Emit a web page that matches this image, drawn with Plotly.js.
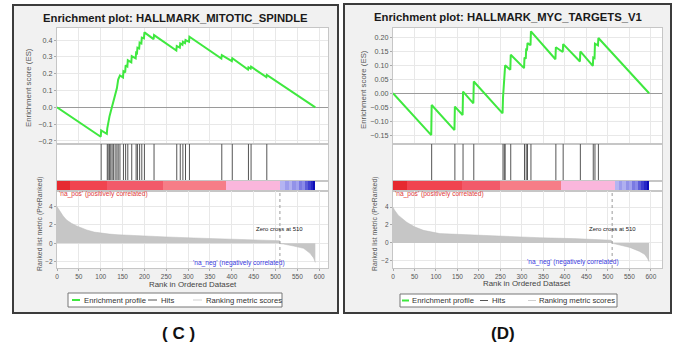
<!DOCTYPE html>
<html><head><meta charset="utf-8">
<script src="https://cdn.plot.ly/plotly-3.0.1.min.js"></script>
<style>html,body{margin:0;padding:0;background:#fff;}#chart{width:675px;height:344px;}</style>
</head><body><div id="chart"></div>
<script>
// ---------------- DATA ----------------
const titleL = "Enrichment plot: HALLMARK_MITOTIC_SPINDLE";
const titleR = "Enrichment plot: HALLMARK_MYC_TARGETS_V1";
const panelLabels = ["( C )", "(D)"];

// Running enrichment score (vertices)
const esRankL = [0,100,101,114,115,117,120,123,126,129,133,137,140,144,151,152,156,157,161,162,170,171,180,181,183,184,188,189,193,194,199,200,221,222,273,274,281,282,287,288,293,294,302,303,376,377,400,401,437,438,443,444,479,480,591];
const esValL  = [0,-0.175,-0.137,-0.157,-0.125,-0.085,-0.055,-0.025,0.005,0.035,0.07,0.113,0.165,0.19,0.178,0.215,0.208,0.25,0.243,0.28,0.268,0.305,0.292,0.325,0.322,0.355,0.35,0.385,0.38,0.415,0.41,0.446,0.406,0.43,0.338,0.365,0.355,0.38,0.372,0.39,0.382,0.40,0.39,0.42,0.29,0.31,0.275,0.292,0.225,0.238,0.23,0.242,0.18,0.193,0];

const esRankR = [0,89,90,143,144,162,163,187,188,255,256,259,261,273,274,305,306,309,310,312,313,320,321,378,379,395,396,435,436,465,466,469,470,477,478,596];
const esValR  = [0,-0.15,-0.042,-0.132,-0.048,-0.078,0.006,-0.036,0.042,-0.072,-0.015,0.048,0.10,0.084,0.138,0.09,0.128,0.124,0.160,0.158,0.180,0.172,0.222,0.122,0.165,0.148,0.176,0.114,0.150,0.098,0.128,0.126,0.178,0.172,0.198,0];

// Hit positions (ranks of gene-set members)
const hitsL = [101,115,117,120,123,126,129,133,137,140,144,152,157,162,171,181,184,189,194,200,222,274,282,288,294,303,377,401,438,444,480];
const hitsR = [90,144,163,188,256,259,261,274,306,310,313,321,379,396,436,466,470,478];

// Ranked list metric (sampled along the curve)
const metricRankL = [0,2,6,14,22,33,45,68,85,100,120,140,175,250,330,405,480,509,511,518,541,564,579,587,591];
const metricValL  = [4.0,3.85,3.45,2.98,2.54,2.18,1.89,1.45,1.22,1.09,1.0,0.93,0.83,0.69,0.55,0.44,0.35,0.28,-0.05,-0.08,-0.3,-0.55,-1.1,-1.6,-2.1];
const metricRankR = [0,3,12,22,32,50,71,109,187,264,342,420,497,508,511,520,551,574,586,592,596];
const metricValR  = [4.0,3.7,3.1,2.7,2.3,1.8,1.4,1.04,0.87,0.68,0.58,0.48,0.37,0.3,-0.05,-0.15,-0.5,-0.95,-1.3,-1.7,-2.1];

const zeroCrossL = 510, zeroCrossR = 510;

// Colour-bar segment edges (rank)
const cbEdgesL = [0,30,114,243,387,511,522,530,538,546,553,560,567,574,580,586,591];
const cbEdgesR = [0,32,160,249,392,516,526,534,542,550,557,564,571,578,584,590,596];

const rankTicks = [0,50,100,150,200,250,300,350,400,450,500,550,600];

// ---------------- STYLE ----------------
const cbColors = ['#e62a30','#f04450','#f25a6a','#f67d87','#fab6dc','#b4b4f2','#9c9cec','#b0b0f0','#9292e8','#a2a2ee','#7a7ae2','#8a8ae8','#5c5cd8','#3e3ed0','#2626c6','#0c0cb6'];
const W=675, H=344;
const FONT = 'Liberation Sans, Arial, sans-serif';
const GREEN = '#3fe83f', HITC = '#555555', GRID = '#e8e8e8', BORDER = '#c6c6c6';
const fx = x => x/W, fy = y => 1 - y/H;

function hitXY(h){const x=[],y=[];h.forEach(r=>{x.push(r,r,null);y.push(0,1,null);});return {x,y};}
function cbBars(edges){const c=[],w=[];for(let i=0;i<edges.length-1;i++){c.push((edges[i]+edges[i+1])/2);w.push(edges[i+1]-edges[i]);}return {c,w};}

const hL = hitXY(hitsL), hR = hitXY(hitsR);
const bL = cbBars(cbEdgesL), bR = cbBars(cbEdgesR);

const traces = [
  {x:esRankL,y:esValL,xaxis:'x',yaxis:'y',mode:'lines',line:{color:GREEN,width:2},showlegend:false,name:'Enrichment profile'},
  {x:hL.x,y:hL.y,xaxis:'x2',yaxis:'y2',mode:'lines',line:{color:HITC,width:1},showlegend:false,name:'Hits'},
  {type:'bar',x:bL.c,width:bL.w,y:bL.c.map(()=>1),base:0,xaxis:'x3',yaxis:'y3',marker:{color:cbColors,line:{width:0}},showlegend:false},
  {x:metricRankL,y:metricValL,xaxis:'x4',yaxis:'y4',mode:'lines',fill:'tozeroy',fillcolor:'#c6c6c6',line:{color:'#bdbdbd',width:0.5},showlegend:false,name:'Ranking metric scores'},
  {x:esRankR,y:esValR,xaxis:'x5',yaxis:'y5',mode:'lines',line:{color:GREEN,width:2},showlegend:false,name:'Enrichment profile'},
  {x:hR.x,y:hR.y,xaxis:'x6',yaxis:'y6',mode:'lines',line:{color:HITC,width:1},showlegend:false,name:'Hits'},
  {type:'bar',x:bR.c,width:bR.w,y:bR.c.map(()=>1),base:0,xaxis:'x7',yaxis:'y7',marker:{color:cbColors,line:{width:0}},showlegend:false},
  {x:metricRankR,y:metricValR,xaxis:'x8',yaxis:'y8',mode:'lines',fill:'tozeroy',fillcolor:'#c6c6c6',line:{color:'#bdbdbd',width:0.5},showlegend:false,name:'Ranking metric scores'}
];

const domL=[fx(57),fx(328)], domR=[fx(393),fx(662)];
const dES=[fy(144),fy(28)], dHit=[fy(180.5),fy(144)], dCB=[fy(190.5),fy(180.5)], dRank=[fy(268),fy(190.5)];
const tickFont={family:FONT,size:7.2,color:'#555'};
const smallTick={family:FONT,size:6.5,color:'#555'};
const base={showline:true,mirror:true,linecolor:BORDER,linewidth:1,zeroline:false,fixedrange:true};
function xax(dom,anchor,range,opts){return Object.assign({},base,{domain:dom,anchor:anchor,range:range,tickvals:rankTicks,showgrid:false,showticklabels:false,ticks:''},opts||{});}
function yax(dom,anchor,range,opts){return Object.assign({},base,{domain:dom,anchor:anchor,range:range,showgrid:false,showticklabels:false,ticks:''},opts||{});}

const rxL=[0,620], rxR=[0,626];
const layout = {
  width:W,height:H,margin:{l:0,r:0,t:0,b:0},paper_bgcolor:'#ffffff',plot_bgcolor:'rgba(0,0,0,0)',
  showlegend:false,bargap:0,
  xaxis: xax(domL,'y',rxL,{showgrid:true,gridcolor:GRID}),
  yaxis: yax(dES,'x',[-0.218,0.472],{showgrid:true,gridcolor:GRID,tickvals:[-0.2,-0.1,0,0.1,0.2,0.3,0.4],tickformat:'.1f',showticklabels:true,tickfont:tickFont,ticks:'outside',ticklen:2,tickcolor:'#aaa',zeroline:true,zerolinecolor:'#9a9a9a',zerolinewidth:1}),
  xaxis2: xax(domL,'y2',rxL),
  yaxis2: yax(dHit,'x2',[0,1]),
  xaxis3: xax(domL,'y3',rxL),
  yaxis3: yax(dCB,'x3',[0,1]),
  xaxis4: xax(domL,'y4',rxL,{showgrid:true,gridcolor:GRID,showticklabels:true,tickfont:smallTick,ticks:'outside',ticklen:2,tickcolor:'#aaa'}),
  yaxis4: yax(dRank,'x4',[-2.7,5.76],{showgrid:true,gridcolor:GRID,tickvals:[-2,0,2,4],showticklabels:true,tickfont:smallTick,ticks:'outside',ticklen:2,tickcolor:'#aaa'}),
  xaxis5: xax(domR,'y5',rxR,{showgrid:true,gridcolor:GRID}),
  yaxis5: yax(dES,'x5',[-0.182,0.234],{showgrid:true,gridcolor:GRID,tickvals:[-0.15,-0.1,-0.05,0,0.05,0.1,0.15,0.2],tickformat:'.2f',showticklabels:true,tickfont:tickFont,ticks:'outside',ticklen:2,tickcolor:'#aaa',zeroline:true,zerolinecolor:'#9a9a9a',zerolinewidth:1}),
  xaxis6: xax(domR,'y6',rxR),
  yaxis6: yax(dHit,'x6',[0,1]),
  xaxis7: xax(domR,'y7',rxR),
  yaxis7: yax(dCB,'x7',[0,1]),
  xaxis8: xax(domR,'y8',rxR,{showgrid:true,gridcolor:GRID,showticklabels:true,tickfont:smallTick,ticks:'outside',ticklen:2,tickcolor:'#aaa'}),
  yaxis8: yax(dRank,'x8',[-2.8,5.85],{showgrid:true,gridcolor:GRID,tickvals:[-2,0,2,4],showticklabels:true,tickfont:smallTick,ticks:'outside',ticklen:2,tickcolor:'#aaa'}),
  shapes:[],
  annotations:[]
};

// frames and plot backgrounds
function prect(x0,y0,x1,y1,fill,line,lw){return {type:'rect',xref:'paper',yref:'paper',x0:fx(x0),x1:fx(x1),y0:fy(y1),y1:fy(y0),fillcolor:fill,line:{color:line,width:lw},layer:'below'};}
layout.shapes.push(prect(13,5,338,313,'#f1f1f1','#3c3c3c',2));
layout.shapes.push(prect(344,4,671,313,'#f1f1f1','#3c3c3c',2));
layout.shapes.push(prect(57,28,328,268,'#ffffff','rgba(0,0,0,0)',0));
layout.shapes.push(prect(393,28,662,268,'#ffffff','rgba(0,0,0,0)',0));
// zero-cross dashed lines
layout.shapes.push({type:'line',xref:'x4',yref:'y4 domain',x0:zeroCrossL,x1:zeroCrossL,y0:0,y1:1,line:{color:'#9a9a9a',width:1,dash:'dot'}});
layout.shapes.push({type:'line',xref:'x8',yref:'y8 domain',x0:zeroCrossR,x1:zeroCrossR,y0:0,y1:1,line:{color:'#9a9a9a',width:1,dash:'dot'}});

function ann(text,x,y,size,color,opts){return Object.assign({text:text,xref:'paper',yref:'paper',x:fx(x),y:fy(y),showarrow:false,font:{family:FONT,size:size,color:color},xanchor:'center',yanchor:'middle'},opts||{});}
const A = layout.annotations;
A.push(ann('<b>'+titleL+'</b>',175.5,18,11.3,'#1a1a1a'));
A.push(ann('<b>'+titleR+'</b>',508,17,11.3,'#1a1a1a'));
A.push(ann('Enrichment score (ES)',28,88,7.8,'#555',{textangle:-90}));
A.push(ann('Enrichment score (ES)',363,90,7.8,'#555',{textangle:-90}));
A.push(ann('Ranked list metric (PreRanked)',40,224,6.8,'#555',{textangle:-90}));
A.push(ann('Ranked list metric (PreRanked)',375,224,6.8,'#555',{textangle:-90}));
A.push(ann('Rank in Ordered Dataset',192.5,284,7.9,'#444'));
A.push(ann('Rank in Ordered Dataset',527,283.5,7.9,'#444'));
// panel text annotations (data-positioned)
A.push({text:"'na_pos' (positively correlated)",xref:'x4',yref:'y4',x:1,y:5.4,xanchor:'left',yanchor:'middle',showarrow:false,font:{family:FONT,size:6.6,color:'#e03a3a'}});
A.push({text:"'na_pos' (positively correlated)",xref:'x8',yref:'y8',x:1,y:5.5,xanchor:'left',yanchor:'middle',showarrow:false,font:{family:FONT,size:6.6,color:'#e03a3a'}});
A.push({text:"'na_neg' (negatively correlated)",xref:'x4',yref:'y4',x:527,y:-2.1,xanchor:'right',yanchor:'middle',showarrow:false,font:{family:FONT,size:6.6,color:'#3a3ae0'}});
A.push({text:"'na_neg' (negatively correlated)",xref:'x8',yref:'y8',x:530,y:-2.1,xanchor:'right',yanchor:'middle',showarrow:false,font:{family:FONT,size:6.6,color:'#3a3ae0'}});
A.push({text:'Zero cross at '+zeroCrossL,xref:'x4',yref:'y4',x:zeroCrossL,y:1.55,xanchor:'center',yanchor:'middle',showarrow:false,font:{family:FONT,size:6,color:'#222'}});
A.push({text:'Zero cross at '+zeroCrossR,xref:'x8',yref:'y8',x:zeroCrossR,y:1.6,xanchor:'center',yanchor:'middle',showarrow:false,font:{family:FONT,size:6,color:'#222'}});

// legends (drawn)
function legend(x0,x1,y0,y1,items){
  layout.shapes.push(prect(x0,y0,x1,y1,'#ffffff','#777',1));
  const ym=(y0+y1)/2;
  items.forEach(it=>{
    layout.shapes.push({type:'line',xref:'paper',yref:'paper',x0:fx(it.lx0),x1:fx(it.lx1),y0:fy(ym),y1:fy(ym),line:{color:it.c,width:it.w}});
    A.push(ann(it.t,it.tx,ym,7.7,'#333',{xanchor:'left'}));
  });
}
legend(68,282,293,307,[
  {lx0:72,lx1:80,c:GREEN,w:2,t:'Enrichment profile',tx:81.5},
  {lx0:148,lx1:157,c:HITC,w:1,t:'Hits',tx:158.5},
  {lx0:193,lx1:202,c:'#cfcfcf',w:1,t:'Ranking metric scores',tx:203.5}
]);
legend(400,617,294,307,[
  {lx0:402,lx1:409,c:GREEN,w:2,t:'Enrichment profile',tx:410},
  {lx0:480,lx1:488,c:HITC,w:1,t:'Hits',tx:489.5},
  {lx0:528,lx1:536,c:'#cfcfcf',w:1,t:'Ranking metric scores',tx:537}
]);

A.push(ann('<b>'+panelLabels[0]+'</b>',178,333,17,'#111'));
A.push(ann('<b>'+panelLabels[1]+'</b>',503,333,17,'#111'));

Plotly.newPlot('chart',traces,layout,{staticPlot:true,displayModeBar:false});
</script></body></html>
